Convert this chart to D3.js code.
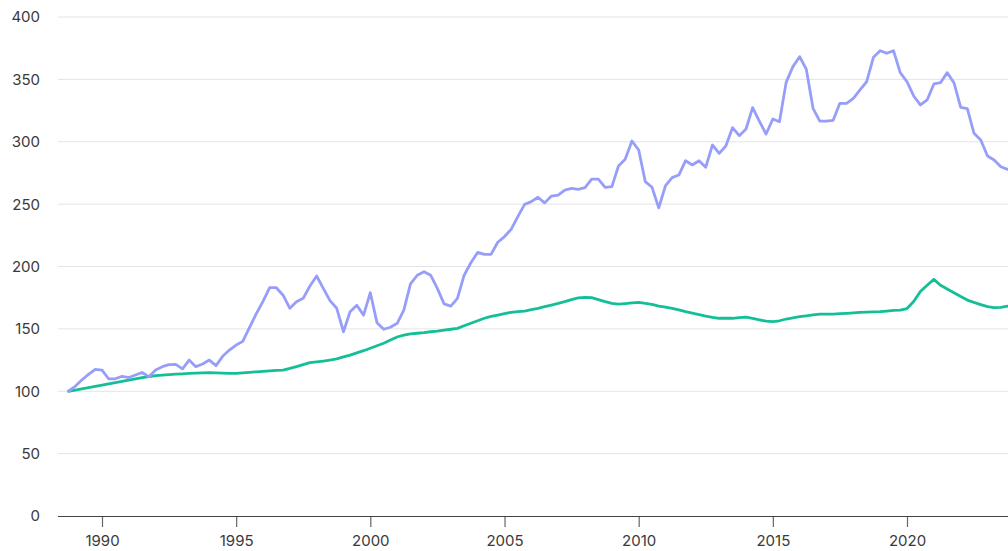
<!DOCTYPE html>
<html>
<head>
<meta charset="utf-8">
<script src="https://cdn.jsdelivr.net/npm/d3@7"></script>
<style>
  html, body { margin: 0; padding: 0; background: #fff; overflow: hidden; }
  svg { display: block; font-family: Inter, "Noto Sans", sans-serif; }
</style>
</head>
<body>
<svg id="chart" width="1008" height="551"></svg>
<script>
// Quarterly index series, starting Q4 1988 (=100)
const startQuarter = "1988-10-01";
const seriesA = [ // purple
  100,104,109,113.5,117.5,117,110,110,112,111,113,115,111.7,117,119.7,121.3,121.6,118,125,119.7,
  121.8,125,120.5,128,133,137,140,151,162,172,183,183,177,166.5,171.8,174.5,184.4,192.4,182.5,172.6,
  166.5,147.7,163.8,169,161,179,155,149.7,151.3,154.5,165,186,193,195.8,193,182.5,170,168.3,174.5,193,
  203,211.3,209.7,209.7,219.4,224,229.8,240,249.8,252,255.5,251,256.5,257.3,261.3,262.7,261.9,263.2,270,270,
  263.5,264,280.6,286,300.6,293.4,268,263.5,247,264.8,271.2,273.3,284.8,281.4,284.8,279.5,297.4,290.7,296.6,311.3,
  304.9,310.2,327.3,316.6,306.2,318.2,316,347.6,360.2,368.2,358,326.8,316.6,316.6,317.2,330.8,330.8,334.8,341.5,348.1,
  367.7,373,370.9,373,355.4,348.1,336.7,329.5,333.5,346.3,347.3,355.4,347.3,327.6,326.5,306.8,301.4,288.6,285.4,280,
  277.9,277
];
const seriesB = [ // green
  100,101,102,103,104,105,106,107,108,109,110,111,111.8,112.5,113,113.3,113.7,114,114.3,114.5,
  114.8,115,114.8,114.6,114.4,114.4,114.8,115.2,115.6,116,116.3,116.7,117,118.3,119.7,121.3,122.9,123.5,124.2,125,
  125.9,127.5,129,130.8,132.5,134.5,136.5,138.5,141,143.5,145,146,146.5,147,147.7,148.2,149,149.7,150.4,152.5,
  154.5,156.5,158.5,160,161.1,162.3,163.3,163.8,164.3,165.4,166.5,167.8,169.1,170.4,171.8,173.5,174.8,175.3,175,173.5,
  171.8,170.5,169.8,170.3,170.8,171.3,170.5,169.7,168.3,167.4,166.5,165.2,163.8,162.6,161.5,160.3,159.3,158.5,158.5,158.5,
  159,159.5,158.5,157.3,156.2,155.8,156.5,157.9,158.8,159.8,160.5,161.2,161.9,161.8,161.9,162.2,162.5,162.9,163.3,163.5,
  163.7,163.8,164.3,164.9,165.1,166.3,172,180,185,189.7,185,182,179,176,173.1,171.2,169.5,167.8,167,167.3,
  168.2,169
];
const yTicks = [0, 50, 100, 150, 200, 250, 300, 350, 400];
const xTickYears = [1990, 1995, 2000, 2005, 2010, 2015, 2020];
const colorA = "#979ef9";
const colorB = "#14bf98";

const svg = d3.select("#chart");
const parse = d3.timeParse("%Y-%m-%d");
const start = parse(startQuarter);
const dates = seriesA.map((_, i) => d3.timeMonth.offset(start, 3 * i));

const x = d3.scaleTime()
  .domain([new Date(1990, 0, 1), new Date(2020, 0, 1)])
  .range([102, 907]);
const y = d3.scaleLinear().domain([0, 400]).range([516, 17]);
const left = 58, right = 1040;

// gridlines
svg.append("g").selectAll("line").data(yTicks.filter(d => d > 0)).join("line")
  .attr("x1", left).attr("x2", right)
  .attr("y1", d => y(d)).attr("y2", d => y(d))
  .attr("stroke", "#e4e4e4").attr("stroke-width", 1);

// y labels
svg.append("g").selectAll("text").data(yTicks).join("text")
  .attr("x", 40).attr("y", d => y(d)).attr("dy", "0.36em")
  .attr("text-anchor", "end").attr("font-size", 15).attr("fill", "#3a3a3a")
  .text(d => d);

// x axis
const xAxis = d3.axisBottom(x)
  .tickValues(xTickYears.map(yr => new Date(yr, 0, 1)))
  .tickFormat(d3.timeFormat("%Y"))
  .tickSize(11).tickSizeOuter(0).tickPadding(8);
const gx = svg.append("g").attr("transform", "translate(0,516)").call(xAxis);
gx.select(".domain").remove();
gx.append("line").attr("x1", left).attr("x2", right).attr("y1", 0.5).attr("y2", 0.5)
  .attr("stroke", "#444").attr("stroke-width", 1.2);
gx.selectAll(".tick line").attr("stroke", "#666").attr("stroke-width", 1.2);
gx.selectAll(".tick text").attr("font-size", 15).attr("fill", "#3a3a3a")
  .attr("font-family", "Inter, 'Noto Sans', sans-serif");

const line = d3.line().x((d, i) => x(dates[i])).y(d => y(d));

svg.append("path").datum(seriesB).attr("d", line)
  .attr("fill", "none").attr("stroke", colorB).attr("stroke-width", 2.8)
  .attr("stroke-linejoin", "round").attr("stroke-linecap", "round");
svg.append("path").datum(seriesA).attr("d", line)
  .attr("fill", "none").attr("stroke", colorA).attr("stroke-width", 2.8)
  .attr("stroke-linejoin", "round").attr("stroke-linecap", "round");
</script>
</body>
</html>
